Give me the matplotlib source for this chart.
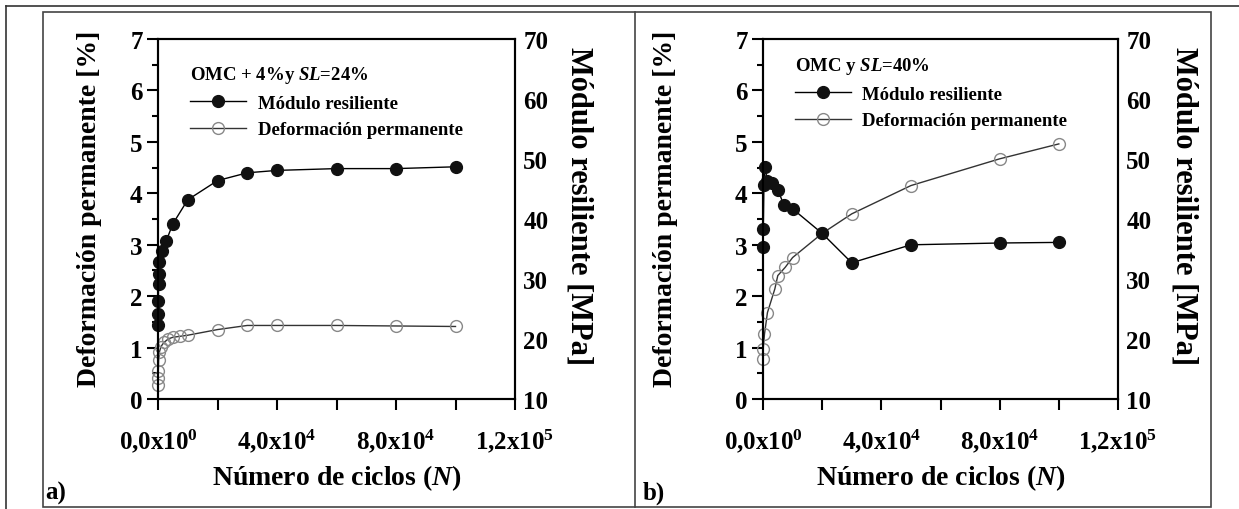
import matplotlib
matplotlib.use('Agg')
import matplotlib.pyplot as plt
from matplotlib.lines import Line2D
from matplotlib.patches import Rectangle
from matplotlib.ticker import MultipleLocator, FixedLocator

plt.rcParams['font.family'] = ['Liberation Serif', 'DejaVu Serif']
plt.rcParams['font.weight'] = 'bold'
plt.rcParams['axes.labelweight'] = 'bold'
plt.rcParams['mathtext.fontset'] = 'custom'
plt.rcParams['mathtext.rm'] = 'Liberation Serif:bold'
plt.rcParams['mathtext.bf'] = 'Liberation Serif:bold'
plt.rcParams['mathtext.it'] = 'Liberation Serif:italic:bold'

# panel a) OMC + 4% y SL=24%
n_mr_a = [10, 50, 100, 200, 300, 500, 1500, 2800, 5000, 10000, 20000, 30000, 40000, 60000, 80000, 100000]
mr_a = [22.3, 24.1, 26.4, 29.2, 30.8, 32.8, 34.7, 36.4, 39.2, 43.2, 46.4, 47.7, 48.1, 48.4, 48.4, 48.7]
n_dp_a = [10, 50, 100, 200, 500, 1000, 2000, 3500, 5000, 7500, 10000, 20000, 30000, 40000, 60000, 80000, 100000]
dp_a = [0.28, 0.4, 0.55, 0.75, 0.92, 1.02, 1.1, 1.17, 1.2, 1.22, 1.24, 1.35, 1.43, 1.43, 1.43, 1.42, 1.41]

# panel b) OMC y SL=40%
n_mr_b = [50, 100, 300, 600, 1500, 3000, 5000, 7000, 10000, 20000, 30000, 50000, 80000, 100000]
mr_b = [35.3, 38.3, 45.6, 48.6, 46.4, 46.0, 44.9, 42.4, 41.7, 37.6, 32.7, 35.7, 36.0, 36.1]
n_dp_b = [20, 50, 500, 1500, 4000, 5000, 7500, 10000, 20000, 30000, 50000, 80000, 100000]
dp_b = [0.78, 0.97, 1.26, 1.68, 2.14, 2.4, 2.56, 2.75, 3.22, 3.6, 4.15, 4.67, 4.96]

xtick_vals = [0, 40000, 80000, 120000]
xtick_labels = [r'0,0x10$^{0}$', r'4,0x10$^{4}$', r'8,0x10$^{4}$', r'1,2x10$^{5}$']

W, H = 1239, 510
fig = plt.figure(figsize=(W / 100, H / 100), dpi=100)


def box(l, t, r, b):
    return [l / W, 1 - b / H, (r - l) / W, (b - t) / H]


# frame lines around the two panels
fig.add_artist(Line2D([6 / W, 1], [1 - 7 / H, 1 - 7 / H], transform=fig.transFigure, color='#333', lw=1.2))
fig.add_artist(Line2D([6 / W, 6 / W], [0, 1 - 7 / H], transform=fig.transFigure, color='#333', lw=1.2))
fig.add_artist(Rectangle((43 / W, 1 - 508 / H), (1211 - 43) / W, (508 - 13) / H, transform=fig.transFigure,
                         fill=False, ec='#444', lw=1.2))
fig.add_artist(Line2D([635 / W, 635 / W], [1 - 508 / H, 1 - 13 / H], transform=fig.transFigure, color='#444', lw=1.2))


def make_panel(rect, n_mr, mr, n_dp, dp, title, leg_xy, ylab_x, ylab2_x, tag, tag_x):
    ax = fig.add_axes(rect)
    ax2 = ax.twinx()
    h2, = ax.plot(n_dp, dp, color='#333', lw=1.0, marker='o', ms=8.5, mfc='none', mec='#888', mew=1.0,
                  clip_on=False)
    h1, = ax2.plot(n_mr, mr, color='black', lw=1.0, marker='o', ms=8.5, mfc='#111', mec='#111',
                   clip_on=False)

    ax.set_xlim(0, 120000)
    ax.set_ylim(0, 7)
    ax2.set_ylim(10, 70)
    ax.xaxis.set_major_locator(FixedLocator(xtick_vals))
    ax.set_xticklabels(xtick_labels)
    ax.xaxis.set_minor_locator(FixedLocator([20000, 60000, 100000]))
    ax.yaxis.set_major_locator(MultipleLocator(1))
    ax.yaxis.set_minor_locator(MultipleLocator(0.5))
    ax2.yaxis.set_major_locator(MultipleLocator(10))

    ax.tick_params(axis='x', which='both', direction='out', length=8, width=1.5, labelsize=18, pad=12)
    ax.tick_params(axis='y', which='major', direction='out', length=8, width=1.5, labelsize=18, pad=3)
    ax.tick_params(axis='y', which='minor', direction='out', length=4, width=1.5)
    ax2.tick_params(axis='y', length=0, labelsize=18, pad=6)
    for a in (ax, ax2):
        for s in a.spines.values():
            s.set_linewidth(1.5)

    ax.set_xlabel(r'Número de ciclos ($N$)', fontsize=20)
    ax.xaxis.set_label_coords(0.5, -0.175)
    ax.set_ylabel('Deformación permanente [%]', fontsize=20)
    ax.yaxis.set_label_coords(ylab_x, 0.53)
    ax2.set_ylabel('Módulo resiliente [MPa]', fontsize=22, rotation=270, va='bottom')
    ax2.yaxis.set_label_coords(ylab2_x, 0.54)

    ax2.legend([h1, h2], ['Módulo resiliente', 'Deformación permanente'], title=title,
               loc='upper left', bbox_to_anchor=leg_xy, frameon=False, fontsize=13.5,
               title_fontsize=13.5, handlelength=3.0, handletextpad=0.6, labelspacing=0.5,
               borderpad=0, borderaxespad=0, alignment='left')

    fig.text(tag_x / W, 1 - 505 / H, tag, fontsize=18, va='bottom')
    return ax, ax2


make_panel(box(158, 40, 515, 400), n_mr_a, mr_a, n_dp_a, dp_a, r'OMC + 4%y $SL$=24%',
           (0.09, 0.93), -0.157, 1.14, 'a)', 45)
make_panel(box(763, 40, 1118, 400), n_mr_b, mr_b, n_dp_b, dp_b, r'OMC y $SL$=40%',
           (0.09, 0.955), -0.24, 1.146, 'b)', 643)

fig.savefig('out.png', dpi=100)
